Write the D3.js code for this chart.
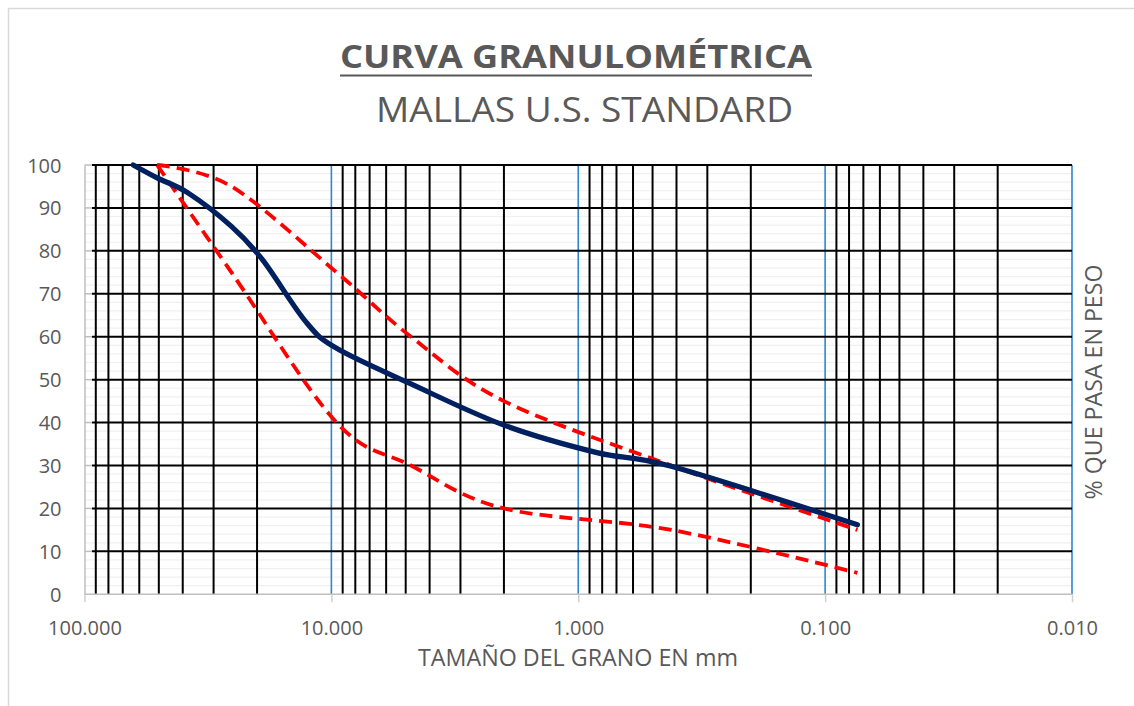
<!DOCTYPE html>
<html><head><meta charset="utf-8">
<script src="https://cdn.jsdelivr.net/npm/d3@7"></script>
<style>
body{margin:0;background:#fff}
text{font-family:"Open Sans",sans-serif;fill:#595959}
</style>
</head><body>
<svg id="c" width="1134" height="706"></svg>
<script>
// ---- data ----
const sieveSample = [63.5, 50.8, 38.1, 25.4, 19.05, 12.7, 9.525, 4.76, 2.0, 0.84, 0.42, 0.074];
const passSample  = [100, 97, 93.5, 85.7, 78, 63.5, 57.3, 49, 39.4, 33, 29.8, 16.2];
const sieveSpec   = [50.8, 25.4, 9.525, 4.76, 2.0, 0.42, 0.074];
const specUpper   = [100, 95, 75, 60, 45, 30, 15];
const specLower   = [100, 75, 40, 30, 20, 15, 5];
const xTickValues = [100, 10, 1, 0.1, 0.01];
const yTickValues = [0, 10, 20, 30, 40, 50, 60, 70, 80, 90, 100];
const title = "CURVA GRANULOMÉTRICA";
const subtitle = "MALLAS U.S. STANDARD";
const xTitle = "TAMAÑO DEL GRANO EN mm";
const yTitle = "% QUE PASA EN PESO";

// ---- layout ----
const L = 84.5, R = 1072, T = 165, B = 594.3;
const svg = d3.select("#c");
const x = d3.scaleLog().domain([100, 0.01]).range([L, R]);
const y = d3.scaleLinear().domain([0, 100]).range([B, T]);

svg.append("rect").attr("width", 1134).attr("height", 706).attr("fill", "#fff");
// chart border
svg.append("path").attr("d", "M8.5,706V8.5H1134").attr("fill", "none").attr("stroke", "#d9d9d9").attr("stroke-width", 1.5);

// minor horizontal gridlines
const minorY = d3.range(2, 100, 2).filter(v => v % 10 !== 0);
svg.append("g").selectAll("line").data(minorY).join("line")
  .attr("x1", L).attr("x2", R).attr("y1", d => y(d)).attr("y2", d => y(d))
  .attr("stroke", "#f0f0f0").attr("stroke-width", 1.2);

// vertical minor (black) log gridlines
const decades = [10, 1, 0.1, 0.01];
const minorX = [];
decades.forEach(d => { for (let k = 2; k <= 9; k++) minorX.push(+(k * d).toPrecision(3)); });
svg.append("g").selectAll("line").data(minorX).join("line")
  .attr("x1", d => x(d)).attr("x2", d => x(d)).attr("y1", T).attr("y2", B)
  .attr("stroke", "#000").attr("stroke-width", 2);

// vertical major (blue) gridlines
svg.append("g").selectAll("line").data(xTickValues.slice(1)).join("line")
  .attr("x1", d => x(d)).attr("x2", d => x(d)).attr("y1", T).attr("y2", B)
  .attr("stroke", "#2e86d0").attr("stroke-width", 1.6);

// horizontal major black gridlines
svg.append("g").selectAll("line").data(yTickValues.slice(1)).join("line")
  .attr("x1", 92).attr("x2", R).attr("y1", d => y(d)).attr("y2", d => y(d))
  .attr("stroke", "#000").attr("stroke-width", 2);
svg.append("g").selectAll("line").data(yTickValues.slice(1)).join("line")
  .attr("x1", L).attr("x2", 92).attr("y1", d => y(d)).attr("y2", d => y(d))
  .attr("stroke", "#bfbfbf").attr("stroke-width", 1.5);

// axes
const yAxis = svg.append("g").attr("transform", `translate(${L},0)`)
  .call(d3.axisLeft(y).tickValues(yTickValues).tickSize(0).tickPadding(23).tickFormat(d3.format("d")));
yAxis.select(".domain").attr("stroke", "#bfbfbf").attr("stroke-width", 1.5);
yAxis.selectAll("text").attr("font-size", 20).attr("font-family", "Open Sans").attr("fill", "#595959").attr("dy", "0.35em");

const xAxis = svg.append("g").attr("transform", `translate(0,${B})`)
  .call(d3.axisBottom(x).tickValues(xTickValues).tickSize(8).tickPadding(19).tickFormat(d3.format(".3f")));
xAxis.select(".domain").attr("stroke", "#bfbfbf").attr("stroke-width", 1.5).attr("d", `M${L},0H${R}`);
xAxis.selectAll(".tick line").attr("stroke", "#d0d0d0").attr("stroke-width", 1.5);
xAxis.selectAll("text").attr("font-size", 20).attr("font-family", "Open Sans").attr("fill", "#595959");

// curves
const line = d3.line().x(d => x(d[0])).y(d => y(d[1])).curve(d3.curveCardinal.tension(0));
const upper = sieveSpec.map((s, i) => [s, specUpper[i]]);
const lower = sieveSpec.map((s, i) => [s, specLower[i]]);
const sample = sieveSample.map((s, i) => [s, passSample[i]]);
[upper, lower].forEach(data => {
  svg.append("path").datum(data).attr("d", line).attr("fill", "none")
    .attr("stroke", "#ff0000").attr("stroke-width", 3.8).attr("stroke-dasharray", "13,7");
});
svg.append("path").datum(sample).attr("d", line).attr("fill", "none")
  .attr("stroke", "#002060").attr("stroke-width", 5.2).attr("stroke-linecap", "round").attr("stroke-linejoin", "round");

// titles
svg.append("text").attr("x", 340).attr("y", 68).attr("font-size", 33).attr("font-weight", "bold")
  .attr("textLength", 472).attr("lengthAdjust", "spacingAndGlyphs").text(title);
svg.append("line").attr("x1", 340).attr("x2", 812).attr("y1", 75.5).attr("y2", 75.5)
  .attr("stroke", "#595959").attr("stroke-width", 2.2);
svg.append("text").attr("x", 376).attr("y", 122).attr("font-size", 35)
  .attr("textLength", 417).attr("lengthAdjust", "spacingAndGlyphs").text(subtitle);
svg.append("text").attr("x", 418).attr("y", 666).attr("font-size", 23)
  .attr("textLength", 320).attr("lengthAdjust", "spacingAndGlyphs").text(xTitle);
svg.append("text").attr("transform", "translate(1102,382) rotate(-90)").attr("text-anchor", "middle")
  .attr("font-size", 23).attr("textLength", 235).attr("lengthAdjust", "spacingAndGlyphs").text(yTitle);
</script>
</body></html>
